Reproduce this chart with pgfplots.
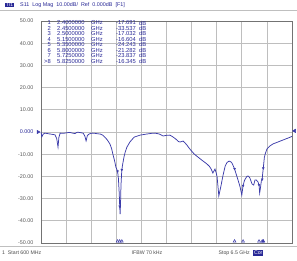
\documentclass[border=0pt]{standalone}
\usepackage{pgfplots}
\pgfplotsset{compat=1.18}
\usepackage{fontspec}
\setmainfont{Liberation Sans}
\definecolor{trc}{RGB}{60,60,170}
\definecolor{txt}{RGB}{40,40,150}
\definecolor{gridc}{RGB}{190,190,190}
\begin{document}
\begin{tikzpicture}[x=1pt,y=1pt]
\path[use as bounding box] (0,0) rectangle (297,260);
\draw[gray!50, line width=0.6pt] (0,249.5) -- (297,249.5);
\draw[gray!50, line width=0.6pt] (0,13.5) -- (297,13.5);
\begin{axis}[at={(41pt,17pt)}, anchor=south west, width=251pt, height=222pt, scale only axis,
  xmin=0.6, xmax=6.5, ymin=-50, ymax=50,
  xtick={0.6,1.19,1.78,2.37,2.96,3.55,4.14,4.73,5.32,5.91,6.5}, xticklabels={},
  ytick={-50,-40,-30,-20,-10,0,10,20,30,40,50},
  yticklabels={-50.00,-40.00,-30.00,-20.00,-10.00,\textcolor{txt}{0.000},10.00,20.00,30.00,40.00,50.00},
  /pgf/number format/assume math mode=true,
  yticklabel style={font=\fontsize{5.4}{6}\selectfont, text=black!65, xshift=-4pt},
  grid=major, major grid style={gridc, line width=0.7pt},
  axis line style={black!55, line width=0.7pt},
  tick style={draw=none}, clip=false]
\addplot[trc, line width=0.75pt] coordinates {
(0.60,0)(0.62,-2.2)(0.65,-1.0)(0.69,-0.5)(0.75,-0.7)(0.81,-0.9)(0.88,-1.1)(0.93,-1.3)(0.97,-3.0)(1.00,-6.8)(1.02,-2.5)(1.05,-0.5)(1.10,-0.6)(1.16,-0.5)(1.22,-0.3)(1.28,-0.2)(1.34,-0.5)(1.40,-0.7)(1.44,-0.2)(1.47,-0.1)(1.53,-0.3)(1.59,-0.5)(1.63,-1.8)(1.66,-4.0)(1.69,-1.6)(1.73,-0.9)(1.80,-0.5)(1.87,-0.6)(1.93,-0.8)(1.99,-0.9)(2.05,-1.4)(2.10,-2.3)(2.16,-3.6)(2.22,-5.4)(2.26,-7.5)(2.29,-10.0)(2.33,-13.0)(2.36,-15.8)(2.40,-17.7)(2.42,-21)(2.44,-28)(2.45,-33.5)(2.46,-37)(2.47,-32)(2.48,-24)(2.50,-17.0)(2.52,-14.5)(2.55,-11.3)(2.58,-9)(2.62,-6.8)(2.69,-4.5)(2.79,-2.3)(2.93,-1.4)(3.09,-0.9)(3.20,-0.6)(3.28,-0.5)(3.38,-0.9)(3.47,-1.8)(3.55,-1.5)(3.63,-1.4)(3.70,-2.2)(3.77,-3.2)(3.83,-4.3)(3.87,-4.5)(3.94,-4.1)(3.99,-5.0)(4.03,-5.9)(4.10,-7.7)(4.20,-9.9)(4.29,-11.3)(4.35,-12.2)(4.41,-13.1)(4.50,-14.4)(4.56,-15.5)(4.60,-16.7)(4.64,-18.5)(4.69,-16.7)(4.72,-18.5)(4.74,-20.3)(4.76,-24.5)(4.78,-28.8)(4.80,-27)(4.83,-24.3)(4.88,-19.4)(4.93,-15.3)(4.97,-13.8)(5.02,-13.1)(5.06,-13.4)(5.09,-14.0)(5.12,-15.3)(5.15,-16.6)(5.18,-18.5)(5.21,-20.3)(5.25,-22.8)(5.28,-24.8)(5.32,-28.4)(5.35,-24.2)(5.38,-22.0)(5.40,-21.2)(5.44,-20.0)(5.47,-19.8)(5.51,-20.7)(5.56,-23.4)(5.60,-23.9)(5.63,-21.6)(5.66,-21.6)(5.70,-22.5)(5.725,-23.8)(5.74,-27.5)(5.76,-25)(5.78,-22)(5.80,-21.3)(5.81,-19)(5.825,-16.3)(5.85,-11.5)(5.87,-9.9)(5.91,-7.7)(5.98,-6.3)(6.05,-5.4)(6.17,-4.5)(6.29,-3.6)(6.41,-2.7)(6.5,-2.0)};
% markers on the trace
\addplot[only marks, mark=triangle*, mark size=1.1pt, mark options={trc, rotate=180}] coordinates {
(2.40,-17.7)(2.45,-33.5)(2.50,-17.0)(5.15,-16.6)(5.35,-24.2)(5.80,-21.3)(5.725,-23.8)(5.825,-16.3)};
% marker indicators on bottom edge
\addplot[only marks, mark=triangle, mark size=1.6pt, mark options={trc, line width=0.5pt}] coordinates {
(2.40,-49.2)(2.45,-49.2)(2.50,-49.2)(5.15,-49.2)(5.35,-49.2)(5.725,-49.2)(5.80,-49.2)};
\addplot[only marks, mark=triangle*, mark size=1.8pt, mark options={trc}] coordinates {(5.825,-49.2)};
% reference level indicators
\addplot[only marks, mark=triangle*, mark size=2pt, mark options={trc, rotate=-90}] coordinates {(0.53,0)};
\addplot[only marks, mark=triangle*, mark size=2pt, mark options={trc, rotate=90}] coordinates {(6.56,0.5)};
\end{axis}
% header
\node[anchor=west, fill=txt, text=white, inner sep=0.8pt, font=\fontsize{4.8}{5}\selectfont] at (5,255) {Tr1};
\node[anchor=west, text=txt, inner sep=0pt, font=\fontsize{5.4}{6}\selectfont] at (20,255) {S11 \ Log Mag \ 10.00dB/ \ Ref \ 0.000dB \ [F1]};
% marker table
\begin{scope}[font=\fontsize{5.8}{6}\selectfont, text=txt, inner sep=0pt]
\foreach \n/\f/\v [count=\i] in {1/2.4000000/-17.691, 2/2.4500000/-33.537, 3/2.5000000/-17.032, 4/5.1500000/-16.604, 5/5.3500000/-24.243, 6/5.8000000/-21.282, 7/5.7250000/-23.837, >8/5.8250000/-16.345}{
  \pgfmathsetmacro{\yy}{260-23-(\i-1)*5.45}
  \node[anchor=east] at (51,\yy) {\n};
  \node[anchor=west] at (57,\yy) {\f};
  \node[anchor=west] at (91,\yy) {GHz};
  \node[anchor=east] at (136,\yy) {\v};
  \node[anchor=west] at (139,\yy) {dB};
}
\end{scope}
% footer
\begin{scope}[font=\fontsize{5.2}{6}\selectfont, text=black!70, inner sep=0pt]
\node[anchor=west] at (2,7) {1 \ Start 600 MHz};
\node at (147,7) {IFBW 70 kHz};
\node[anchor=east] at (250,7) {Stop 6.5 GHz};
\node[anchor=west, fill=txt, text=white, inner sep=0.8pt] at (253,7) {Cor};
\end{scope}
\end{tikzpicture}
\end{document}
